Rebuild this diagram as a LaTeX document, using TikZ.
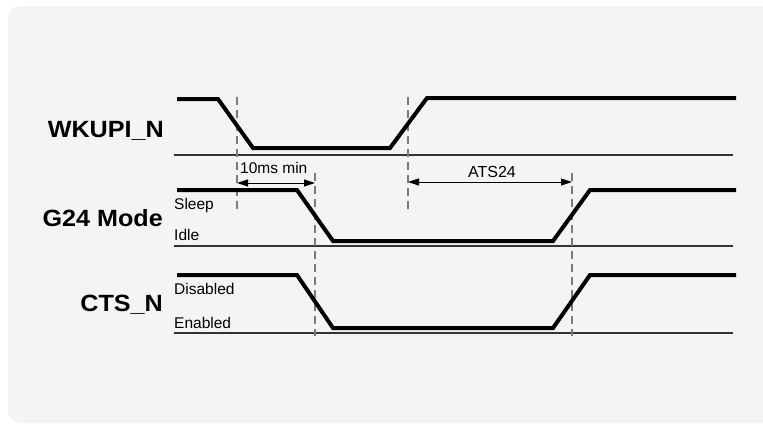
\documentclass[tikz,border=0pt]{standalone}
\usepackage{fontspec}
\setmainfont{Liberation Sans}
\usetikzlibrary{arrows.meta}
\definecolor{panel}{HTML}{F4F4F4}
\definecolor{baseln}{HTML}{333333}
\definecolor{dashc}{HTML}{7A7A7A}
\tikzset{
  signal/.style={line width=4pt, black, line join=miter},
  baseline/.style={line width=1.3pt, baseln},
  guide/.style={line width=1.1pt, dashc, dash pattern=on 8pt off 5pt},
  dimarrow/.style={line width=1pt, black, {Triangle[length=11pt,width=7pt]}-{Triangle[length=11pt,width=7pt]}},
  siglabel/.style={font=\fontsize{23.5}{26}\selectfont\bfseries, anchor=base east, inner sep=0pt, xscale=1.07},
  statelabel/.style={font=\fontsize{15.5}{17}\selectfont, anchor=base west, inner sep=0pt},
  dimlabel/.style={font=\fontsize{16}{18}\selectfont, anchor=base, inner sep=0pt}
}
\begin{document}
\begin{tikzpicture}[x=1pt,y=-1pt]
\useasboundingbox (0,0) rectangle (763,426);
\fill[panel, rounded corners=12pt] (8,6) rectangle (790,423);

% signal names
\node[siglabel] (wk) at (164,137) {WKUPI\_N};
\node[siglabel] (g24) at (163,226) {G24 Mode};
\node[siglabel] (cts) at (163,311) {CTS\_N};

% state labels
\node[statelabel] (sleep) at (174,209) {Sleep};
\node[statelabel] (idle) at (174,240) {Idle};
\node[statelabel] (dis) at (174,294) {Disabled};
\node[statelabel] (en) at (174,328) {Enabled};

% baselines
\draw[baseline] (174,155) -- (733,155);
\draw[baseline] (174,246) -- (733,246);
\draw[baseline] (174,333) -- (733,333);

% guide lines
\coordinate (d1t) at (237,97);  \coordinate (d1b) at (237,210);
\coordinate (d2t) at (408,97);  \coordinate (d2b) at (408,210);
\coordinate (d3t) at (315,173); \coordinate (d3b) at (315,336);
\coordinate (d4t) at (572,173); \coordinate (d4b) at (572,336);
\draw[guide] (d1t) -- (d1b);
\draw[guide] (d2t) -- (d2b);
\draw[guide] (d3t) -- (d3b);
\draw[guide] (d4t) -- (d4b);

% signals
\draw[signal] (177,99) -- (218,99) -- (253,148) -- (390,148) -- (427,98) -- (736,98);
\draw[signal] (177,190) -- (297,190) -- (333,241) -- (553,241) -- (590,190) -- (736,190);
\draw[signal] (177,275) -- (297,275) -- (333,328) -- (553,328) -- (590,275) -- (736,275);

% dimensions
\coordinate (a1) at (237,183); \coordinate (b1) at (315,183);
\coordinate (a2) at (408,182); \coordinate (b2) at (572,182);
\draw[dimarrow] (a1) -- (b1);
\draw[dimarrow] (a2) -- (b2);
\node[statelabel] (ten) at (240,173) {10ms min};
\node[dimlabel] (ats) at (492,177) {ATS24};
\end{tikzpicture}
\end{document}
